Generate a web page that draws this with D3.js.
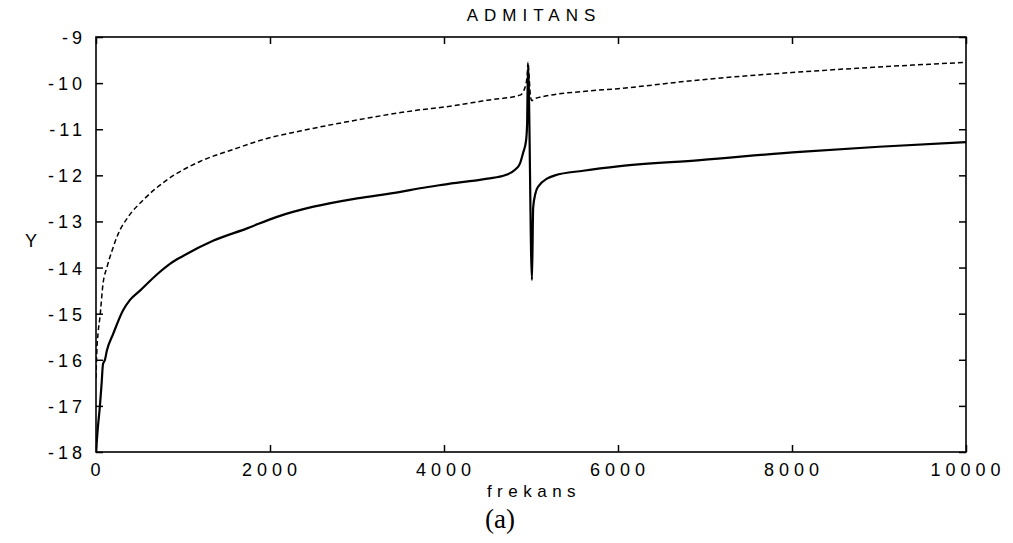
<!DOCTYPE html>
<html>
<head>
<meta charset="utf-8">
<script src="https://cdn.jsdelivr.net/npm/d3@7"></script>
<style>
  body { margin: 0; background: #fff; }
  svg text { font-family: "Liberation Sans", Arial, sans-serif; fill: #000; }
</style>
</head>
<body>
<svg id="chart" width="1013" height="543"></svg>
<script>
// ---- data ----
const xTicks = [0, 2000, 4000, 6000, 8000, 10000];
const yTicks = [-18, -17, -16, -15, -14, -13, -12, -11, -10, -9];

// dashed curve (upper)
const dashFreq = [0, 10, 25, 45, 80, 125, 185, 255, 370, 540,
                  800, 1195, 1575, 1966, 2345, 3000, 3724, 4000, 4500, 4874,
                  4930, 4955, 4966, 4980, 4995, 5010, 5030, 5200, 5600, 6000,
                  6943, 8000, 9000, 10000];
const dashY = [-16.4, -15.8, -15.4, -15.08, -14.36, -14.0, -13.63, -13.27, -12.9, -12.54,
               -12.12, -11.7, -11.44, -11.2, -11.04, -10.8, -10.58, -10.52, -10.37, -10.26,
               -10.1, -9.85, -9.55, -9.9, -10.3, -10.38, -10.35, -10.27, -10.18, -10.12,
               -9.93, -9.77, -9.65, -9.55];

// solid curve (lower)
const solidFreq = [0, 20, 45, 65, 80, 103, 125, 195, 310, 391,
                   506, 700, 850, 1000, 1345, 1736, 2080, 2500, 3000, 3500,
                   3724, 4000, 4500, 4700, 4816, 4874, 4908, 4943, 4955, 4966,
                   5011, 5025, 5050, 5080, 5276, 5600, 6023, 6943, 8092, 9000, 10000];
const solidY = [-18, -17.5, -17.0, -16.5, -16.1, -16.0, -15.8, -15.45, -14.93, -14.7,
                -14.5, -14.15, -13.92, -13.75, -13.42, -13.15, -12.9, -12.68, -12.5, -12.36,
                -12.28, -12.2, -12.07, -12.0, -11.88, -11.74, -11.52, -11.25, -10.9, -9.6,
                -14.27, -12.7, -12.4, -12.25, -12.0, -11.9, -11.8, -11.67, -11.49, -11.38, -11.28];

// ---- layout ----
const plot = { left: 96, right: 966, top: 37, bottom: 452 };
const svg = d3.select('#chart');

const x = d3.scaleLinear().domain([0, 10000]).range([plot.left, plot.right]);
const y = d3.scaleLinear().domain([-18, -9]).range([plot.bottom, plot.top]);

svg.append('defs').append('clipPath').attr('id', 'clip')
  .append('rect')
  .attr('x', plot.left).attr('y', plot.top - 2)
  .attr('width', plot.right - plot.left).attr('height', plot.bottom - plot.top + 2);

const line = d3.line()
  .x(d => x(d[0]))
  .y(d => y(d[1]))
  .curve(d3.curveMonotoneX);

// curves
svg.append('path')
  .datum(dashFreq.map((f, i) => [f, dashY[i]]))
  .attr('d', line)
  .attr('clip-path', 'url(#clip)')
  .attr('fill', 'none')
  .attr('stroke', '#000')
  .attr('stroke-width', 1.5)
  .attr('stroke-dasharray', '5,3');

svg.append('path')
  .datum(solidFreq.map((f, i) => [f, solidY[i]]))
  .attr('d', line)
  .attr('clip-path', 'url(#clip)')
  .attr('fill', 'none')
  .attr('stroke', '#000')
  .attr('stroke-width', 2.2)
  .attr('stroke-linejoin', 'round');

// axes — ticks point inward on all four sides, labels drawn separately
const tickLen = 7;
const axisStyle = g => {
  g.select('.domain').remove();
  g.selectAll('.tick text').remove();
  g.selectAll('.tick line').attr('stroke', '#000').attr('stroke-width', 1.5);
};
svg.append('g').attr('transform', `translate(0,${plot.bottom})`)
  .call(d3.axisBottom(x).tickValues(xTicks).tickSizeInner(-tickLen).tickSizeOuter(0)).call(axisStyle);
svg.append('g').attr('transform', `translate(0,${plot.top})`)
  .call(d3.axisTop(x).tickValues(xTicks).tickSizeInner(-tickLen).tickSizeOuter(0)).call(axisStyle);
svg.append('g').attr('transform', `translate(${plot.left},0)`)
  .call(d3.axisLeft(y).tickValues(yTicks).tickSizeInner(-tickLen).tickSizeOuter(0)).call(axisStyle);
svg.append('g').attr('transform', `translate(${plot.right},0)`)
  .call(d3.axisRight(y).tickValues(yTicks).tickSizeInner(-tickLen).tickSizeOuter(0)).call(axisStyle);

// frame
svg.append('rect')
  .attr('x', plot.left).attr('y', plot.top)
  .attr('width', plot.right - plot.left).attr('height', plot.bottom - plot.top)
  .attr('fill', 'none').attr('stroke', '#000').attr('stroke-width', 1.6);

// tick labels (spaced out like the original)
const ls = 4;
svg.append('g').selectAll('text').data(yTicks).join('text')
  .attr('x', plot.left - 14 + ls)
  .attr('y', d => y(d) + 7)
  .attr('text-anchor', 'end')
  .attr('font-size', 18)
  .attr('letter-spacing', ls)
  .text(d => d);

svg.append('g').selectAll('text').data(xTicks).join('text')
  .attr('x', d => x(d) + ls / 2)
  .attr('y', 476)
  .attr('text-anchor', 'middle')
  .attr('font-size', 18)
  .attr('letter-spacing', ls + 1)
  .text(d => d);

// titles
svg.append('text')
  .attr('x', (plot.left + plot.right) / 2 + 3).attr('y', 21)
  .attr('text-anchor', 'middle')
  .attr('font-size', 17)
  .attr('letter-spacing', 6)
  .text('ADMITANS');

svg.append('text')
  .attr('x', (plot.left + plot.right) / 2 + 3).attr('y', 497)
  .attr('text-anchor', 'middle')
  .attr('font-size', 17)
  .attr('letter-spacing', 5.5)
  .text('frekans');

svg.append('text')
  .attr('x', 31).attr('y', 247)
  .attr('text-anchor', 'middle')
  .attr('font-size', 18)
  .text('Y');

svg.append('text')
  .attr('x', 500).attr('y', 528)
  .attr('text-anchor', 'middle')
  .attr('font-size', 27)
  .style('font-family', '"Liberation Serif", "Times New Roman", serif')
  .text('(a)');
</script>
</body>
</html>
